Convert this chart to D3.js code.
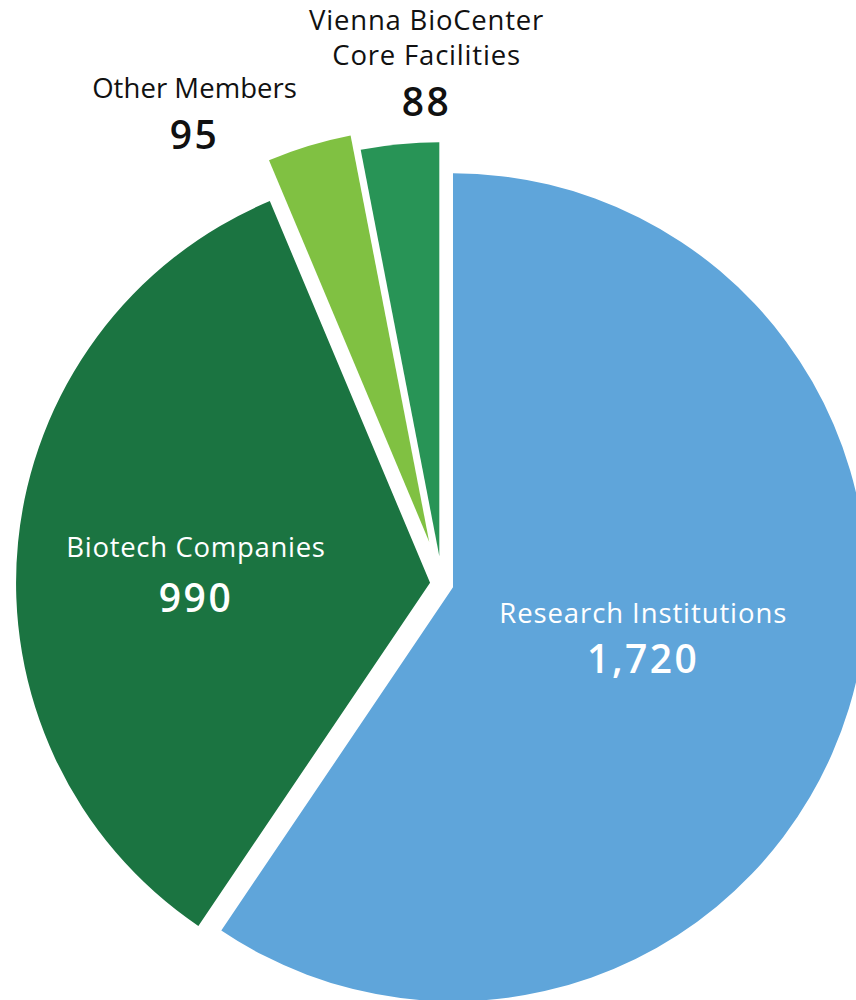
<!DOCTYPE html>
<html>
<head>
<meta charset="utf-8">
<script src="https://cdn.jsdelivr.net/npm/d3@7"></script>
<style>
  html, body { margin: 0; padding: 0; background: #ffffff; }
  svg { display: block; font-family: "Open Sans", Roboto, "Noto Sans", sans-serif; }
</style>
</head>
<body>
<svg id="chart" width="856" height="1000"></svg>
<script>
// ---- data ----
const categories = ["Research Institutions", "Biotech Companies", "Other Members", "Vienna BioCenter Core Facilities"];
const values = [1720, 990, 95, 88];
const valueLabels = ["1,720", "990", "95", "88"];
const labelLines = [["Research Institutions"], ["Biotech Companies"], ["Other Members"], ["Vienna BioCenter", "Core Facilities"]];

// ---- style ----
const colors = ["#5fa5da", "#1b7441", "#80c142", "#289456"];
const explode = [11.5, 12, 44, 28];
const textColors = ["#ffffff", "#ffffff", "#111111", "#111111"];
// label placement: [angle (deg, clockwise from top), radius] relative to pie centre
const labelPolar = [[101, 205], [276.3, 247.5], [333.0, 545], [358.3, 519]];
const valueOffset = [50, 55, 51, 51];
const labelSpacing = [0.9, 0.7, 0.05, 0.8];

const width = 856, height = 1000;
const cx = 442, cy = 584, radius = 414;

const svg = d3.select("#chart");
const g = svg.append("g").attr("transform", `translate(${cx},${cy})`);

const pie = d3.pie().sort(null).value(d => d)(values);
const arc = d3.arc().innerRadius(0).outerRadius(radius);

g.selectAll("path.slice")
  .data(pie)
  .join("path")
  .attr("class", "slice")
  .attr("fill", (d, i) => colors[i])
  .attr("transform", (d, i) => {
    const mid = (d.startAngle + d.endAngle) / 2;
    return `translate(${Math.sin(mid) * explode[i]},${-Math.cos(mid) * explode[i]})`;
  })
  .attr("d", arc);

const labels = g.selectAll("g.label")
  .data(pie)
  .join("g")
  .attr("class", "label")
  .attr("transform", (d, i) => {
    const a = labelPolar[i][0] * Math.PI / 180, r = labelPolar[i][1];
    return `translate(${Math.sin(a) * r},${-Math.cos(a) * r})`;
  });

labels.each(function(d, i) {
  const sel = d3.select(this);
  const lines = labelLines[i];
  const lineH = 35;
  const startY = -(lines.length - 1) * lineH;
  lines.forEach((t, k) => {
    sel.append("text")
      .attr("text-anchor", "middle")
      .attr("y", startY + k * lineH)
      .attr("font-size", 27.5)
      .attr("font-weight", 400)
      .attr("letter-spacing", labelSpacing[i])
      .attr("fill", textColors[i])
      .text(t);
  });
  sel.append("text")
    .attr("text-anchor", "middle")
    .attr("y", valueOffset[i])
    .attr("font-size", 39)
    .attr("font-weight", 600)
    .attr("letter-spacing", 2.5)
    .attr("fill", textColors[i])
    .text(valueLabels[i]);
});
</script>
</body>
</html>
